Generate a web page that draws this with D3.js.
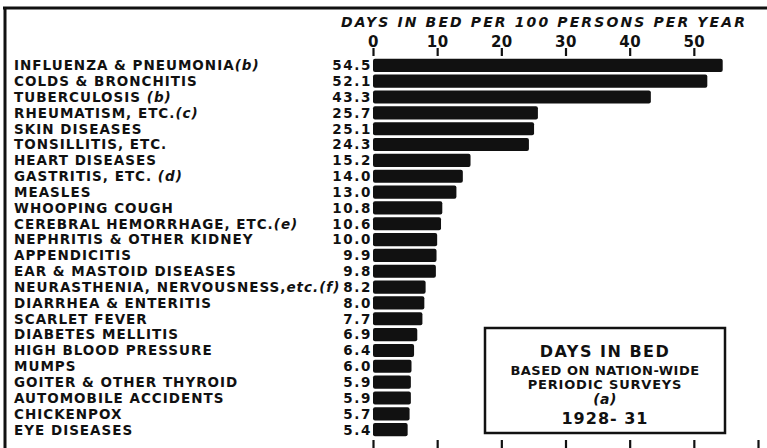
<!DOCTYPE html>
<html>
<head>
<meta charset="utf-8">
<script src="https://cdn.jsdelivr.net/npm/d3@7"></script>
<style>
  body { margin: 0; background: #fff; }
  svg { display: block; }
  .lbl { font-family: "DejaVu Sans", sans-serif; font-weight: bold; fill: #111; }
</style>
</head>
<body>
<svg id="chart" width="767" height="448"></svg>
<script>
// disease names, footnote marks and days in bed per 100 persons per year
var diseases = ["INFLUENZA & PNEUMONIA", "COLDS & BRONCHITIS", "TUBERCULOSIS", "RHEUMATISM, ETC.",
  "SKIN DISEASES", "TONSILLITIS, ETC.", "HEART DISEASES", "GASTRITIS, ETC.", "MEASLES",
  "WHOOPING COUGH", "CEREBRAL HEMORRHAGE, ETC.", "NEPHRITIS & OTHER KIDNEY", "APPENDICITIS",
  "EAR & MASTOID DISEASES", "NEURASTHENIA, NERVOUSNESS,", "DIARRHEA & ENTERITIS", "SCARLET FEVER",
  "DIABETES MELLITIS", "HIGH BLOOD PRESSURE", "MUMPS", "GOITER & OTHER THYROID",
  "AUTOMOBILE ACCIDENTS", "CHICKENPOX", "EYE DISEASES"];
var notes = ["(b)", "", " (b)", "(c)", "", "", "", " (d)", "", "", "(e)", "", "", "", "etc.(f)",
  "", "", "", "", "", "", "", "", ""];
var daysInBed = [54.5, 52.1, 43.3, 25.7, 25.1, 24.3, 15.2, 14.0, 13.0, 10.8, 10.6, 10.0, 9.9,
  9.8, 8.2, 8.0, 7.7, 6.9, 6.4, 6.0, 5.9, 5.9, 5.7, 5.4];
var topTicks = [0, 10, 20, 30, 40, 50];
var bottomTicks = [0, 10, 20, 30, 40, 50, 60];
var boxLines = ["DAYS IN BED", "BASED ON NATION-WIDE", "PERIODIC SURVEYS", "(a)", "1928- 31"];

var svg = d3.select("#chart");
var format = d3.format(".1f");

// scales
var x = d3.scaleLinear().domain([0, 60]).range([373, 758]);
var y = d3.scaleBand().domain(diseases).range([57.5, 437.5]).paddingInner(0.17).paddingOuter(0.08);

// frame lines top and left
svg.append("line").attr("x1", 3).attr("x2", 767).attr("y1", 8).attr("y2", 8)
   .attr("stroke", "#111").attr("stroke-width", 3);
svg.append("line").attr("x1", 5).attr("x2", 5).attr("y1", 7).attr("y2", 448)
   .attr("stroke", "#111").attr("stroke-width", 3);

// axis title
svg.append("text")
   .attr("class", "lbl")
   .attr("x", 341).attr("y", 27)
   .attr("textLength", 404)
   .attr("lengthAdjust", "spacing")
   .style("font-size", "14px").style("font-style", "italic")
   .text("DAYS  IN  BED  PER  100  PERSONS  PER  YEAR");

// top axis
var topAxis = svg.append("g")
   .attr("transform", "translate(0,56)")
   .call(d3.axisTop(x).tickValues(topTicks).tickSize(8).tickPadding(1));
topAxis.select(".domain").remove();
topAxis.selectAll("line").attr("stroke", "#111").attr("stroke-width", 2.2);
topAxis.selectAll("text").attr("class", "lbl").attr("fill", "#111")
   .style("font-size", "15px").style("letter-spacing", "0.5px");

// bottom ticks
var bottomAxis = svg.append("g")
   .attr("transform", "translate(0,440)")
   .call(d3.axisBottom(x).tickValues(bottomTicks).tickSize(8).tickFormat(""));
bottomAxis.select(".domain").remove();
bottomAxis.selectAll("line").attr("stroke", "#111").attr("stroke-width", 2.2);

// bars
svg.selectAll(".bar")
   .data(daysInBed)
   .enter()
   .append("rect")
   .attr("class", "bar")
   .attr("x", x(0))
   .attr("y", function(d, i) { return y(diseases[i]); })
   .attr("width", function(d) { return x(d) - x(0); })
   .attr("height", y.bandwidth())
   .attr("rx", 2)
   .attr("fill", "#111");

// value labels
svg.selectAll(".val")
   .data(daysInBed)
   .enter()
   .append("text")
   .attr("class", "lbl val")
   .attr("x", x(0) - 1)
   .attr("y", function(d, i) { return y(diseases[i]) + y.bandwidth() / 2; })
   .attr("dy", "0.36em")
   .attr("text-anchor", "end")
   .style("font-size", "13.5px")
   .style("letter-spacing", "1.6px")
   .text(function(d) { return format(d); });

// disease labels
var labels = svg.selectAll(".name")
   .data(diseases)
   .enter()
   .append("text")
   .attr("class", "lbl name")
   .attr("x", 14)
   .attr("y", function(d) { return y(d) + y.bandwidth() / 2; })
   .attr("dy", "0.36em")
   .style("font-size", "13.5px")
   .style("letter-spacing", "1px");
labels.append("tspan").text(function(d) { return d; });
labels.append("tspan").style("font-style", "italic")
   .text(function(d, i) { return notes[i]; });

// legend box
svg.append("rect")
   .attr("x", 485).attr("y", 328).attr("width", 240).attr("height", 105)
   .attr("fill", "#fff").attr("stroke", "#111").attr("stroke-width", 2.5);

var boxY = [357, 375, 389, 404, 424];
var boxSize = [16, 13, 13, 14, 16];
var boxSpacing = [1.5, 0.5, 0.8, 0.5, 1];
svg.selectAll(".box")
   .data(boxLines)
   .enter()
   .append("text")
   .attr("class", "lbl box")
   .attr("x", 605)
   .attr("y", function(d, i) { return boxY[i]; })
   .attr("text-anchor", "middle")
   .style("font-size", function(d, i) { return boxSize[i] + "px"; })
   .style("font-style", function(d) { return d == "(a)" ? "italic" : "normal"; })
   .style("letter-spacing", function(d, i) { return boxSpacing[i] + "px"; })
   .text(function(d) { return d; });
</script>
</body>
</html>
